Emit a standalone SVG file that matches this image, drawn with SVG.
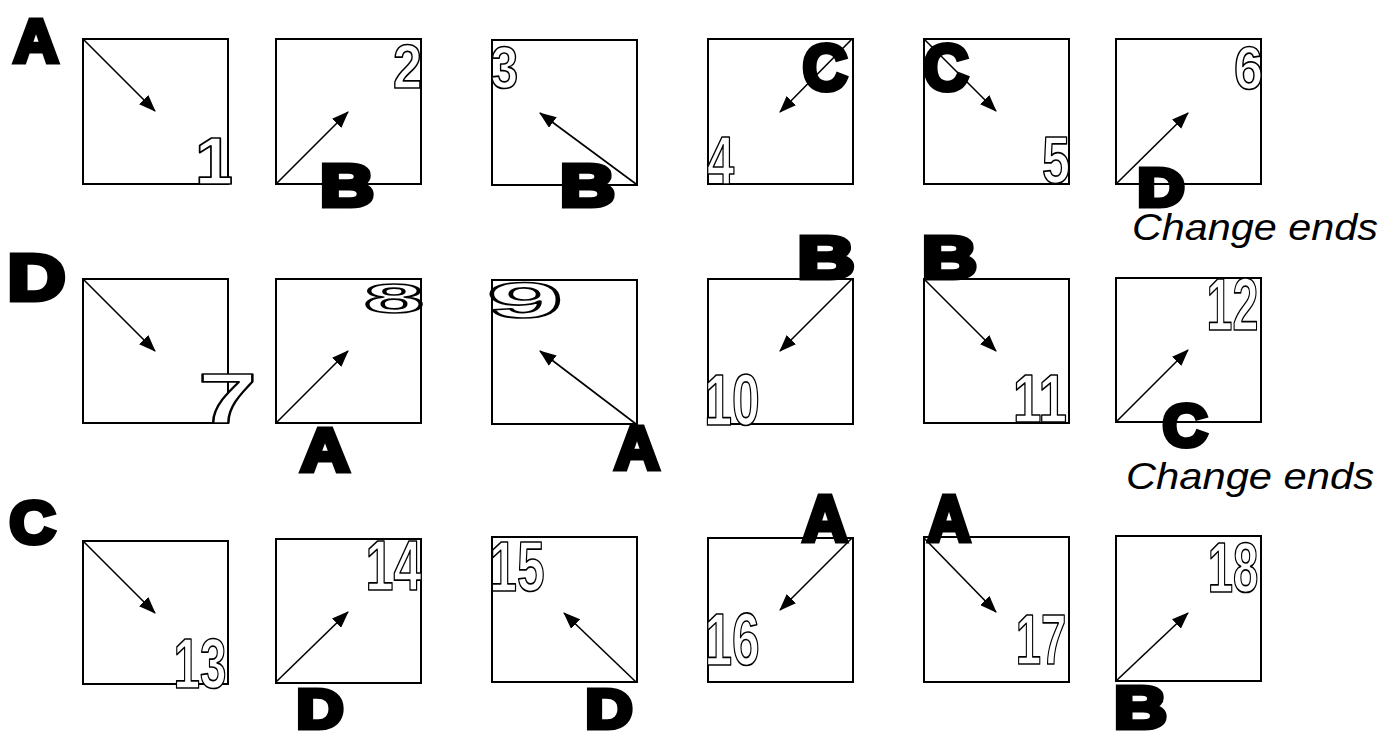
<svg xmlns="http://www.w3.org/2000/svg" width="1382" height="733" viewBox="0 0 1382 733">
<defs>
<marker id="ah" markerUnits="userSpaceOnUse" markerWidth="17" markerHeight="13" refX="16" refY="6.5" orient="auto">
<path d="M0,0 L17,6.5 L0,13 z" fill="#000"/>
</marker>
<style>
.box{fill:none;stroke:#000;stroke-width:2}
.arr{fill:none;stroke:#000;stroke-width:1.6;marker-end:url(#ah)}
.num{font-family:"Liberation Sans",Arial,sans-serif;font-weight:bold;fill:#fff;stroke:#000;stroke-width:1.7;stroke-linejoin:round;text-anchor:middle}
.big{font-family:"Liberation Sans",Arial,sans-serif;font-weight:bold;fill:#000;stroke:#000;stroke-width:5;stroke-linejoin:miter;text-anchor:middle}
.note{font-family:"Liberation Sans",Arial,sans-serif;font-style:italic;font-size:36px;fill:#000}
</style>
</defs>
<rect width="1382" height="733" fill="#fff"/>

<g id="cells">
<g id="cell1"><rect class="box" x="83" y="39" width="145" height="145"/><text class="num" x="214" y="184" font-size="67" textLength="38" lengthAdjust="spacingAndGlyphs">1</text></g>
<g id="cell2"><rect class="box" x="276" y="39" width="145" height="145"/><text class="num" x="407.5" y="88" font-size="63" textLength="29" lengthAdjust="spacingAndGlyphs">2</text></g>
<g id="cell3"><rect class="box" x="492" y="40" width="145" height="145"/><text class="num" x="504.5" y="88" font-size="60" textLength="27.4" lengthAdjust="spacingAndGlyphs">3</text></g>
<g id="cell4"><rect class="box" x="708" y="39" width="145" height="145"/><text class="num" x="720.5" y="184" font-size="68" textLength="27.2" lengthAdjust="spacingAndGlyphs">4</text></g>
<g id="cell5"><rect class="box" x="924" y="39" width="145" height="145"/><text class="num" x="1056" y="183" font-size="67" textLength="28" lengthAdjust="spacingAndGlyphs">5</text></g>
<g id="cell6"><rect class="box" x="1116" y="39" width="145" height="145"/><text class="num" x="1248.5" y="89" font-size="61.5" textLength="29" lengthAdjust="spacingAndGlyphs">6</text></g>

<g id="cell7"><rect class="box" x="83" y="279" width="145" height="144"/><text class="num" x="227.5" y="423" font-size="70" textLength="59" lengthAdjust="spacingAndGlyphs">7</text></g>
<g id="cell8"><rect class="box" x="276" y="279" width="145" height="144"/><text class="num" x="394" y="313" font-size="42" textLength="60" lengthAdjust="spacingAndGlyphs">8</text></g>
<g id="cell9"><rect class="box" x="492" y="280" width="145" height="144"/><text class="num" x="525" y="318" font-size="50" textLength="76" lengthAdjust="spacingAndGlyphs">9</text></g>
<g id="cell10"><rect class="box" x="708" y="279" width="145" height="145"/><text class="num" x="732" y="425" font-size="72.6" textLength="55.4" lengthAdjust="spacingAndGlyphs">10</text></g>
<g id="cell11"><rect class="box" x="924" y="279" width="145" height="144"/><text class="num" x="1040" y="422" font-size="68.4" textLength="54" lengthAdjust="spacingAndGlyphs">11</text></g>
<g id="cell12"><rect class="box" x="1116" y="278" width="145" height="144"/><text class="num" x="1232.5" y="330" font-size="74" textLength="51.8" lengthAdjust="spacingAndGlyphs">12</text></g>

<g id="cell13"><rect class="box" x="83" y="541" width="145" height="143"/><text class="num" x="200" y="688" font-size="71" textLength="52.9" lengthAdjust="spacingAndGlyphs">13</text></g>
<g id="cell14"><rect class="box" x="276" y="539" width="145" height="144"/><text class="num" x="393.5" y="590" font-size="70" textLength="56" lengthAdjust="spacingAndGlyphs">14</text></g>
<g id="cell15"><rect class="box" x="492" y="537" width="145" height="145"/><text class="num" x="517" y="591" font-size="71" textLength="55.3" lengthAdjust="spacingAndGlyphs">15</text></g>
<g id="cell16"><rect class="box" x="708" y="538" width="145" height="144"/><text class="num" x="732" y="665" font-size="74" textLength="55.2" lengthAdjust="spacingAndGlyphs">16</text></g>
<g id="cell17"><rect class="box" x="924" y="537" width="145" height="145"/><text class="num" x="1041" y="664" font-size="71" textLength="50.6" lengthAdjust="spacingAndGlyphs">17</text></g>
<g id="cell18"><rect class="box" x="1116" y="536" width="145" height="145"/><text class="num" x="1233" y="592" font-size="70" textLength="50.6" lengthAdjust="spacingAndGlyphs">18</text></g>
</g>

<g id="connectors">
<line class="arr" x1="83" y1="39" x2="155" y2="111"/>
<line class="arr" x1="276" y1="184" x2="348" y2="112"/>
<line class="arr" x1="636" y1="184" x2="540" y2="113"/>
<line class="arr" x1="852" y1="39" x2="780" y2="112"/>
<line class="arr" x1="924" y1="39" x2="996" y2="111"/>
<line class="arr" x1="1116" y1="184" x2="1188" y2="113"/>
<line class="arr" x1="83" y1="279" x2="155" y2="351"/>
<line class="arr" x1="276" y1="423" x2="348" y2="351"/>
<line class="arr" x1="636" y1="424" x2="540" y2="351"/>
<line class="arr" x1="852" y1="279" x2="780" y2="351"/>
<line class="arr" x1="924" y1="279" x2="996" y2="351"/>
<line class="arr" x1="1116" y1="422" x2="1188" y2="350"/>
<line class="arr" x1="83" y1="541" x2="155" y2="613"/>
<line class="arr" x1="276" y1="682" x2="348" y2="612"/>
<line class="arr" x1="636" y1="682" x2="564" y2="613"/>
<line class="arr" x1="852" y1="538" x2="780" y2="610"/>
<line class="arr" x1="924" y1="538" x2="996" y2="612"/>
<line class="arr" x1="1116" y1="681" x2="1188" y2="613"/>
</g>

<g id="letters">
<g id="rowlabelA"><text class="big" x="36" y="61.5" font-size="62" textLength="45" lengthAdjust="spacingAndGlyphs">A</text></g>
<g id="lblB2"><text class="big" x="347" y="205.5" font-size="60" textLength="54" lengthAdjust="spacingAndGlyphs">B</text></g>
<g id="lblB3"><text class="big" x="587.5" y="205.5" font-size="60" textLength="55" lengthAdjust="spacingAndGlyphs">B</text></g>
<g id="lblC4"><text class="big" x="825" y="89.5" font-size="65" textLength="45" lengthAdjust="spacingAndGlyphs">C</text></g>
<g id="lblC5"><text class="big" x="946" y="89.5" font-size="65" textLength="45" lengthAdjust="spacingAndGlyphs">C</text></g>
<g id="lblD6"><text class="big" x="1161" y="205.5" font-size="54" textLength="47" lengthAdjust="spacingAndGlyphs">D</text></g>

<g id="rowlabelD"><text class="big" x="36.5" y="299.5" font-size="65" textLength="58" lengthAdjust="spacingAndGlyphs">D</text></g>
<g id="lblB10"><text class="big" x="826" y="277.5" font-size="60" textLength="57" lengthAdjust="spacingAndGlyphs">B</text></g>
<g id="lblB11"><text class="big" x="949.5" y="277.5" font-size="60" textLength="55" lengthAdjust="spacingAndGlyphs">B</text></g>
<g id="lblA8"><text class="big" x="325" y="470.5" font-size="61" textLength="49" lengthAdjust="spacingAndGlyphs">A</text></g>
<g id="lblA9"><text class="big" x="637" y="468.5" font-size="61" textLength="45" lengthAdjust="spacingAndGlyphs">A</text></g>
<g id="lblC12"><text class="big" x="1185" y="445.5" font-size="60" textLength="45" lengthAdjust="spacingAndGlyphs">C</text></g>

<g id="rowlabelC"><text class="big" x="32.5" y="542.5" font-size="59" textLength="46" lengthAdjust="spacingAndGlyphs">C</text></g>
<g id="lblD14"><text class="big" x="320" y="728" font-size="56" textLength="47" lengthAdjust="spacingAndGlyphs">D</text></g>
<g id="lblD15"><text class="big" x="609" y="728" font-size="56" textLength="47" lengthAdjust="spacingAndGlyphs">D</text></g>
<g id="lblA16"><text class="big" x="825" y="540.5" font-size="64" textLength="45" lengthAdjust="spacingAndGlyphs">A</text></g>
<g id="lblA17"><text class="big" x="949" y="540.5" font-size="64" textLength="43" lengthAdjust="spacingAndGlyphs">A</text></g>
<g id="lblB18"><text class="big" x="1140.5" y="728" font-size="60" textLength="53" lengthAdjust="spacingAndGlyphs">B</text></g>
</g>

<g id="notes">
<text class="note" x="1132" y="240" textLength="246" lengthAdjust="spacingAndGlyphs">Change ends</text>
<text class="note" x="1126" y="489" textLength="248" lengthAdjust="spacingAndGlyphs">Change ends</text>
</g>
</svg>
